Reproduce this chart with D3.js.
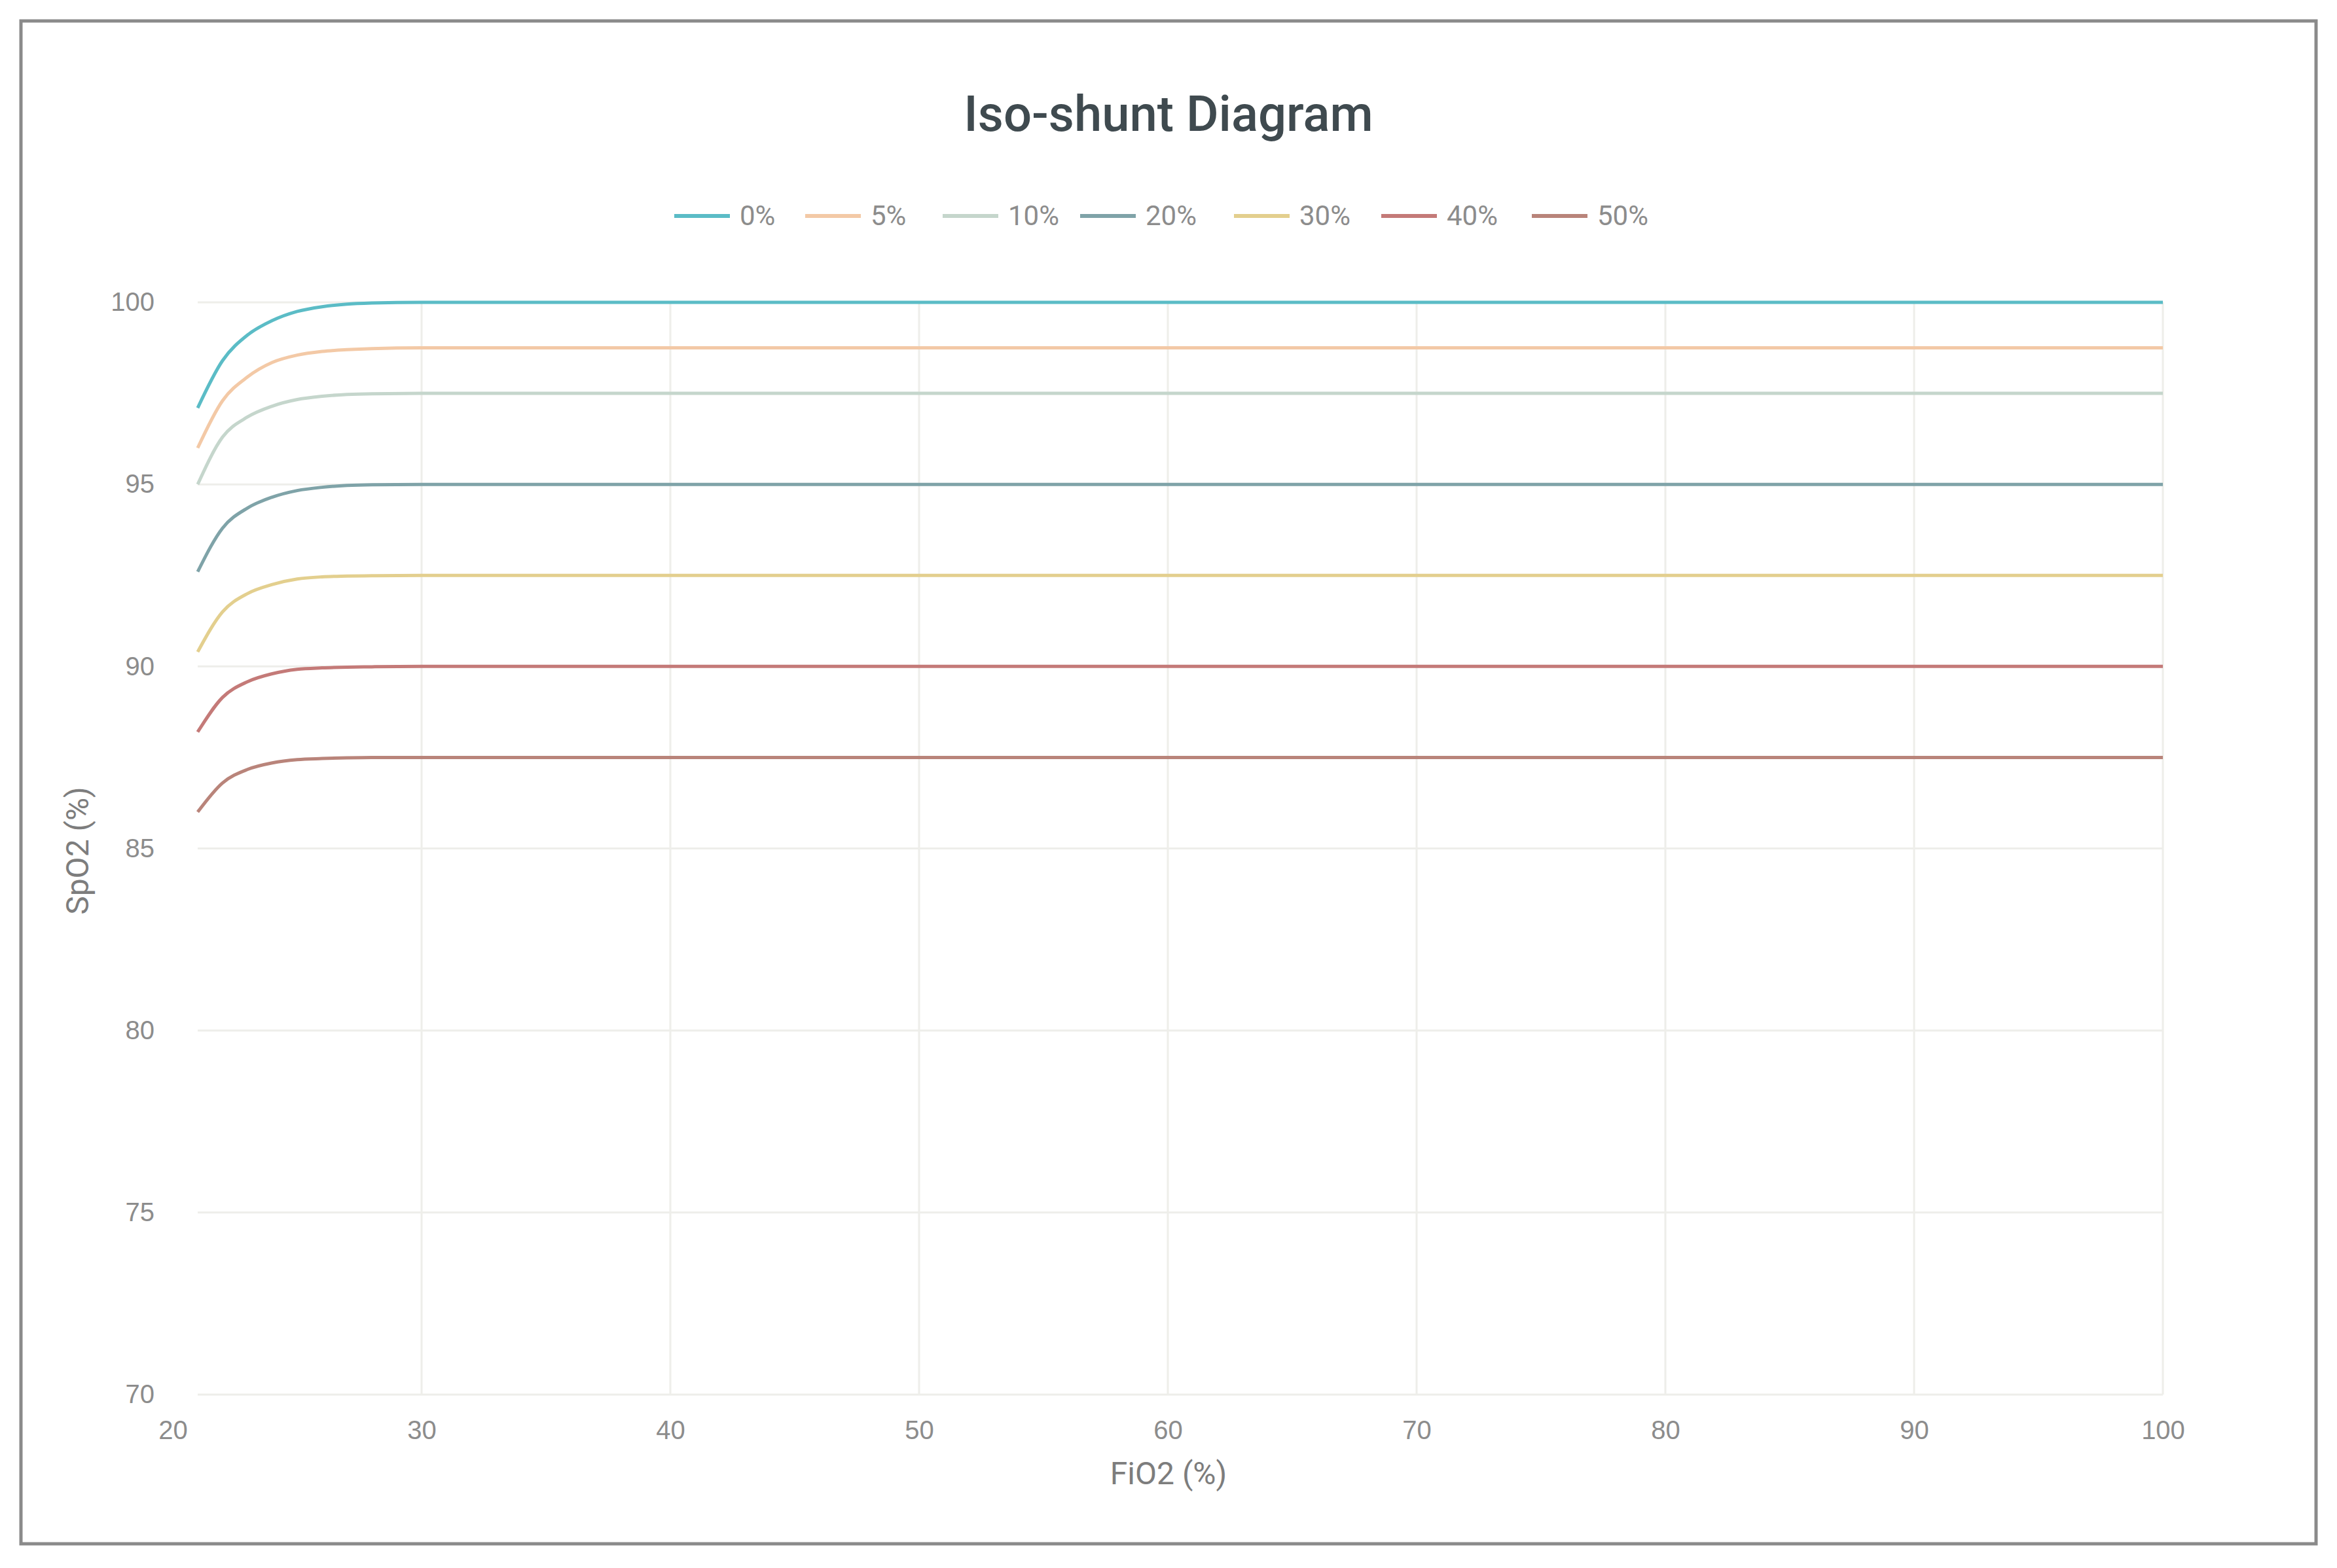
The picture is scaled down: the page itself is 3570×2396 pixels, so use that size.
<!DOCTYPE html>
<html><head><meta charset="utf-8">
<script src="https://cdn.jsdelivr.net/npm/d3@7"></script>
<style>body{margin:0;background:#fff}svg{font-family:"Helvetica Neue",Roboto,"Liberation Sans",sans-serif}</style>
</head><body>
<svg id="chart" width="3570" height="2396"></svg>
<script>
// data
var fio2 = [21, 22, 23, 24, 25, 26, 27, 28, 30, 40, 50, 60, 70, 80, 90, 100]
var seriesNames = ["0%", "5%", "10%", "20%", "30%", "40%", "50%"]
var colors = ["#5bbcc6", "#f3c9a6", "#c5d6cc", "#7fa3a8", "#e3cf8e", "#c47a78", "#b9847a"]
var s0 = [97.1, 98.4, 99.1, 99.5, 99.75, 99.88, 99.95, 99.98, 100, 100, 100, 100, 100, 100, 100, 100]
var s5 = [96.0, 97.3, 97.95, 98.35, 98.55, 98.65, 98.7, 98.73, 98.75, 98.75, 98.75, 98.75, 98.75, 98.75, 98.75, 98.75]
var s10 = [95.0, 96.3, 96.85, 97.15, 97.33, 97.42, 97.47, 97.49, 97.5, 97.5, 97.5, 97.5, 97.5, 97.5, 97.5, 97.5]
var s20 = [92.6, 93.8, 94.35, 94.65, 94.83, 94.92, 94.97, 94.99, 95, 95, 95, 95, 95, 95, 95, 95]
var s30 = [90.4, 91.5, 92.0, 92.25, 92.4, 92.46, 92.48, 92.49, 92.5, 92.5, 92.5, 92.5, 92.5, 92.5, 92.5, 92.5]
var s40 = [88.2, 89.15, 89.58, 89.8, 89.92, 89.96, 89.98, 89.99, 90, 90, 90, 90, 90, 90, 90, 90]
var s50 = [86.0, 86.8, 87.17, 87.35, 87.44, 87.47, 87.49, 87.5, 87.5, 87.5, 87.5, 87.5, 87.5, 87.5, 87.5, 87.5]
var allSeries = [s0, s5, s10, s20, s30, s40, s50]
var xTicks = [20, 30, 40, 50, 60, 70, 80, 90, 100]
var yTicks = [70, 75, 80, 85, 90, 95, 100]

var svg = d3.select("#chart")
// frame
svg.append("rect").attr("x", 32).attr("y", 32).attr("width", 3506).attr("height", 2327)
  .attr("fill", "#fff").attr("stroke", "#8a8a8a").attr("stroke-width", 5)

var x = d3.scaleLinear().domain([20, 100]).range([264, 3304])
var y = d3.scaleLinear().domain([70, 100]).range([2131, 462])

// grid
svg.append("g").selectAll("line").data(xTicks.slice(1)).join("line")
  .attr("x1", d => x(d)).attr("x2", d => x(d)).attr("y1", y(100)).attr("y2", y(70))
  .attr("stroke", "#eeeeea").attr("stroke-width", 3)
svg.append("g").selectAll("line").data(yTicks).join("line")
  .attr("x1", x(21)).attr("x2", x(100)).attr("y1", d => y(d)).attr("y2", d => y(d))
  .attr("stroke", "#eeeeea").attr("stroke-width", 3)

// axes
var xAxis = svg.append("g").attr("transform", "translate(0," + (y(70) + 20) + ")")
  .call(d3.axisBottom(x).tickValues(xTicks).tickSize(0).tickPadding(20))
var yAxis = svg.append("g").attr("transform", "translate(" + (x(20) - 28) + ",0)")
  .call(d3.axisLeft(y).tickValues(yTicks).tickSize(0).tickPadding(0))
;[xAxis, yAxis].forEach(function (a) {
  a.select(".domain").remove()
  a.selectAll("text").attr("font-size", 40).attr("fill", "#8c8c8c")
})

// lines
var line = d3.line().x((d, i) => x(fio2[i])).y(d => y(d)).curve(d3.curveMonotoneX)
allSeries.forEach(function (s, k) {
  svg.append("path").datum(s).attr("d", line).attr("fill", "none")
    .attr("stroke", colors[k]).attr("stroke-width", 5)
})

// title and axis labels
svg.append("text").attr("x", 1785).attr("y", 200).attr("text-anchor", "middle")
  .attr("font-size", 76).attr("font-weight", 500).attr("fill", "#3f4a4f").text("Iso-shunt Diagram")
svg.append("text").attr("x", 1785).attr("y", 2268).attr("text-anchor", "middle")
  .attr("font-size", 48).attr("fill", "#7d7d7d").text("FiO2 (%)")
svg.append("text").attr("transform", "translate(135,1300) rotate(-90)").attr("text-anchor", "middle")
  .attr("font-size", 48).attr("fill", "#7d7d7d").text("SpO2 (%)")

// legend
var legX = [1030, 1230, 1440, 1650, 1885, 2110, 2340]
var leg = svg.append("g").selectAll("g").data(seriesNames).join("g")
  .attr("transform", (d, i) => "translate(" + legX[i] + ",330)")
leg.append("line").attr("x1", 0).attr("x2", 85).attr("stroke", (d, i) => colors[i]).attr("stroke-width", 6)
leg.append("text").attr("x", 100).attr("y", 14).attr("font-size", 42).attr("fill", "#8c8c8c").text(d => d)
</script>
</body></html>
